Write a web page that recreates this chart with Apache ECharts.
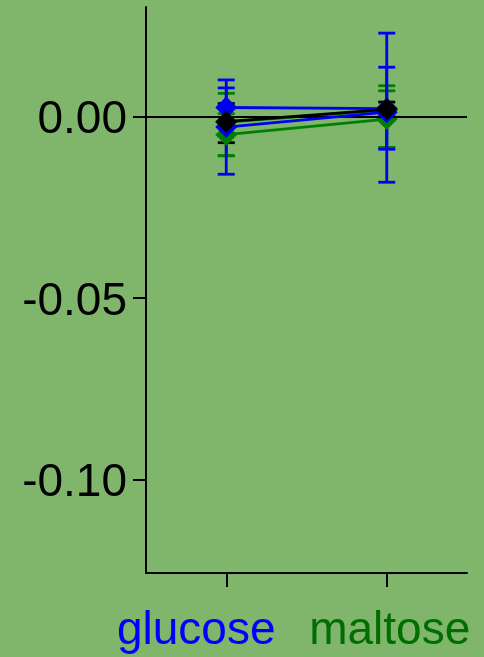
<!DOCTYPE html>
<html>
<head>
<meta charset="utf-8">
<script src="https://cdn.jsdelivr.net/npm/echarts@6/dist/echarts.min.js"></script>
<style>
  html, body { margin: 0; padding: 0; background: #80b56c; }
  #chart { width: 484px; height: 657px; }
</style>
</head>
<body>
<div id="chart"></div>
<script>
// Categories on the x axis and their label colours
const categories = ['glucose', 'maltose'];
const categoryColors = ['#0000ff', '#006e00'];

// Y axis range and labelled ticks
const yMin = -0.1258;
const yMax = 0.0302;
const yTicks = [-0.10, -0.05, 0.00];

// Series: mean value and lower / upper end of the error bar per category
const blue1Mean = [0.0025, 0.0022];
const blue1Low  = [-0.0029, -0.0181];
const blue1High = [0.0079, 0.0230];

const blue2Mean = [-0.0029, 0.0012];
const blue2Low  = [-0.0159, -0.0090];
const blue2High = [0.0101, 0.0136];

const green1Mean = [-0.0050, -0.0007];
const green1Low  = [-0.0108, -0.0087];
const green1High = [0.0008, 0.0071];

const green2Mean = [-0.0015, 0.0018];
const green2Low  = [-0.0108, -0.0085];
const green2High = [0.0064, 0.0085];

const blackMean = [-0.0014, 0.0020];
const blackLow  = [-0.0072, 0.0000];
const blackHigh = [0.0036, 0.0040];

const BLUE = '#0000f0';
const GREEN = '#008000';
const BLACK = '#000000';

// Drawing order: later entries sit on top
const groups = [
  { name: 'green2', color: GREEN, mean: green2Mean, low: green2Low, high: green2High },
  { name: 'green1', color: GREEN, mean: green1Mean, low: green1Low, high: green1High },
  { name: 'blue1',  color: BLUE,  mean: blue1Mean,  low: blue1Low,  high: blue1High },
  { name: 'blue2',  color: BLUE,  mean: blue2Mean,  low: blue2Low,  high: blue2High },
  { name: 'black',  color: BLACK, mean: blackMean,  low: blackLow,  high: blackHigh }
];

const FONT = '"Liberation Sans", Arial, Helvetica, sans-serif';

function errorBarSeries(g) {
  return {
    type: 'custom',
    name: g.name + '-err',
    z: 1,
    silent: true,
    data: categories.map((c, i) => [i, g.low[i], g.high[i]]),
    renderItem(params, api) {
      const x = api.coord([api.value(0), 0])[0];
      const yl = api.coord([api.value(0), api.value(1)])[1];
      const yh = api.coord([api.value(0), api.value(2)])[1];
      const w = 8.5;
      const style = { stroke: g.color, lineWidth: 2.8 };
      return {
        type: 'group',
        children: [
          { type: 'line', shape: { x1: x, y1: yl, x2: x, y2: yh }, style },
          { type: 'line', shape: { x1: x - w, y1: yh, x2: x + w, y2: yh }, style },
          { type: 'line', shape: { x1: x - w, y1: yl, x2: x + w, y2: yl }, style }
        ]
      };
    }
  };
}

function lineSeries(g, idx) {
  const s = {
    type: 'line',
    name: g.name,
    z: 2 + idx,
    data: g.mean,
    symbol: 'diamond',
    symbolSize: 22,
    showAllSymbol: true,
    itemStyle: { color: g.color, borderWidth: 0, opacity: 1 },
    lineStyle: { color: g.color, width: 2.8 },
    emphasis: { disabled: true },
    animation: false
  };
  if (g.name === 'black') {
    s.markLine = {
      silent: true,
      symbol: 'none',
      label: { show: false },
      lineStyle: { color: '#000', width: 2, type: 'solid' },
      data: [{ yAxis: 0 }]
    };
  }
  return s;
}

const chart = echarts.init(document.getElementById('chart'), null, { renderer: 'canvas' });

chart.setOption({
  backgroundColor: '#80b56c',
  animation: false,
  grid: { left: 146, right: 17, top: 7, bottom: 84 },
  xAxis: {
    type: 'category',
    data: categories,
    boundaryGap: true,
    axisLine: { onZero: false, lineStyle: { color: '#000', width: 2 } },
    axisTick: { show: true, alignWithLabel: true, interval: 0, length: 14, lineStyle: { color: '#000', width: 2 } },
    axisLabel: {
      margin: 35,
      interval: 0,
      hideOverlap: false,
      fontFamily: FONT,
      fontSize: 46,
      formatter: (v) => `{${v === categories[0] ? 'a' : 'b'}|${v}}`,
      rich: {
        a: { color: categoryColors[0], fontFamily: FONT, fontSize: 46, padding: [0, 60, 0, 0] },
        b: { color: categoryColors[1], fontFamily: FONT, fontSize: 46, padding: [0, 0, 0, 6] }
      }
    },
    splitLine: { show: false }
  },
  yAxis: {
    type: 'value',
    min: yMin,
    max: yMax,
    axisLine: { show: true, lineStyle: { color: '#000', width: 2 } },
    axisTick: { show: true, length: 13, lineStyle: { color: '#000', width: 2 }, customValues: yTicks },
    axisLabel: {
      margin: 19,
      color: '#000',
      fontFamily: FONT,
      fontSize: 46,
      customValues: yTicks,
      formatter: (v) => `{t|${v.toFixed(2)}}`,
      rich: {
        t: { color: '#000', fontFamily: FONT, fontSize: 46, padding: [8, 0, 0, 0] }
      }
    },
    splitLine: { show: false }
  },
  series: [
    ...groups.map(errorBarSeries),
    ...groups.map(lineSeries)
  ]
});
</script>
</body>
</html>
